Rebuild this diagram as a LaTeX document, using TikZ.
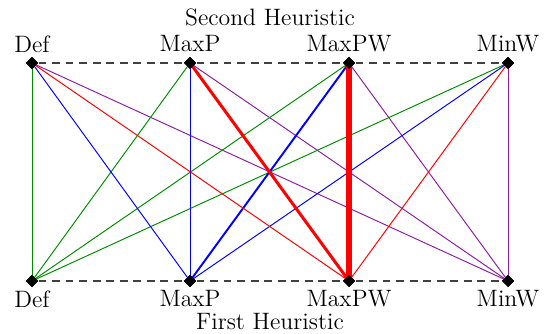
\documentclass[tikz,border=0pt]{standalone}
\usetikzlibrary{shapes.geometric}
\definecolor{mypurple}{RGB}{140,30,160}
\begin{document}
\begin{tikzpicture}[x=0.02cm,y=-0.02cm,
  font=\fontsize{13.5}{16}\selectfont,
  vert/.style={diamond,fill=black,inner sep=0pt,minimum size=7pt},
  lab/.style={inner sep=0pt},
  e/.style={line width=0.55pt},
  cDef/.style={e,green!55!black},
  cMaxP/.style={e,blue},
  cMaxPW/.style={e,red},
  cMinW/.style={e,mypurple},
  dsh/.style={black!75,line width=0.6pt,dash pattern=on 4.5pt off 3.2pt}]
\useasboundingbox (0,0) rectangle (548,334);
\foreach \n/\x in {Def/32,MaxP/190,MaxPW/349,MinW/508}{
  \node[vert] (t\n) at (\x,63) {};
  \node[vert] (b\n) at (\x,281) {};
  \node[lab] (lt\n) at (\x,44) {\n};
  \node[lab] (lb\n) at (\x,299) {\n};
}
\node[lab] (second) at (270,17) {Second Heuristic};
\node[lab] (first) at (270,322) {First Heuristic};
\draw[dsh] (tDef) -- (tMaxP) -- (tMaxPW) -- (tMinW);
\draw[dsh] (bDef) -- (bMaxP) -- (bMaxPW) -- (bMinW);
\foreach \t in {Def,MaxP,MaxPW,MinW}{
  \foreach \b in {Def,MinW}{
    \draw[c\b] (t\t.center) -- (b\b.center);
  }
}
\draw[cMaxP] (tDef.center) -- (bMaxP.center);
\draw[cMaxP] (tMaxP.center) -- (bMaxP.center);
\draw[cMaxP] (tMinW.center) -- (bMaxP.center);
\draw[cMaxP,line width=1.1pt] (tMaxPW.center) -- (bMaxP.center);
\draw[cMaxPW] (tDef.center) -- (bMaxPW.center);
\draw[cMaxPW] (tMinW.center) -- (bMaxPW.center);
\draw[cMaxPW,line width=1.7pt] (tMaxP.center) -- (bMaxPW.center);
\draw[cMaxPW,line width=3pt] (tMaxPW.center) -- (bMaxPW.center);
\foreach \n in {Def,MaxP,MaxPW,MinW}{
  \node[vert] at (t\n) {};
  \node[vert] at (b\n) {};
}
\end{tikzpicture}
\end{document}
